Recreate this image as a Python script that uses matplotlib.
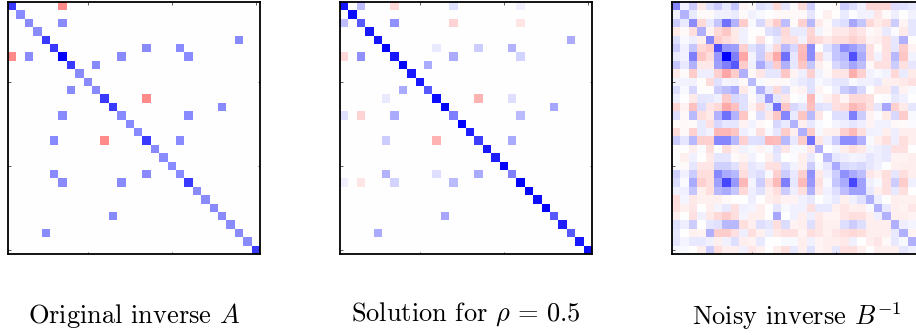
import numpy as np
import matplotlib
matplotlib.use("Agg")
import matplotlib.pyplot as plt

plt.rcParams['mathtext.fontset'] = 'cm'
plt.rcParams['font.family'] = ['cmr10', 'DejaVu Serif']

# diagonal of the original inverse
a_diag = [.77, .46, .46, .46, .77, .77, 1, .77, .46, .46, .46, .77, .77, .46, .46,
          .46, .77, .46, .46, .46, .46, .77, .46, .46, .46, .46, .46, .46, .46, .77]
# off diagonal entries, upper triangle (row, col)
a_rows = [0, 2, 4, 5, 5, 6, 6, 7, 11, 12, 13, 16]
a_cols = [6, 6, 27, 16, 20, 13, 21, 10, 16, 25, 21, 20]
a_vals = [-.46, .46, .46, .46, .46, .46, .46, .46, -.46, .46, .46, .46]

# solution for rho = 0.5
s_diag = [.92, .95, .65, .9, .92, 1, .9, 1, .9, .9, .65, .95, 1, .5, 1,
          .88, .75, .9, .88, 1, .5, 1, .97, .95, 1, .65, .88, .65, .9, .95]
s_rows = [0, 0, 0, 0, 2, 2, 2, 4, 5, 5, 5, 6, 6, 7, 11, 11, 12, 13, 16]
s_cols = [2, 6, 13, 21, 6, 13, 21, 27, 11, 16, 20, 13, 21, 10, 16, 20, 25, 21, 20]
s_vals = [.25, -.15, .12, .06, .43, -.17, -.1, .33, .08, .2, .3, .33, .17, .33,
          -.3, .13, .35, .27, .33]

# noisy inverse in percent, col 29 falls off the picture
noisy = [
    [47, 5, 20, -8, 12, 20, 8, 22, -5, -2, 12, 8, -15, 10, -2, -14, 18, 0, 0, -2, 20, 13, 6, -16, -16, -16, 13, 12, 9],
    [5, 30, 8, -2, -2, 6, 6, 8, -2, 5, 3, 0, -3, -3, -3, -3, 10, 0, -6, -1, 8, 1, 5, 5, -10, -2, 7, 0, 5],
    [20, 8, 45, -15, 8, 22, 55, 30, -20, 3, 15, -9, -20, 25, -2, -18, 28, -8, -2, 10, 13, 35, 22, -15, -8, -12, 20, -5, 10],
    [-8, -2, -13, 31, -5, -15, -22, -8, 6, -1, -1, 12, 15, -15, 8, 8, -16, 4, -3, -9, -9, -14, -10, -3, -5, 8, 2, -8, 10],
    [13, 3, 7, -6, 47, -20, -14, -9, 6, -1, -12, -1, 9, -13, -12, 5, -18, -14, -9, -14, -14, -18, -14, -5, -7, -12, 10, 31, -1],
    [20, 6, 22, -15, -20, 70, 40, 38, -18, 12, 18, 6, -15, 28, 15, -26, 45, 0, 12, 22, 45, 38, 28, -12, -2, -12, 10, -20, -5],
    [8, 5, 50, -22, -14, 40, 100, 50, -35, 4, 20, -15, -33, 56, 10, -28, 45, -15, 6, 22, 28, 68, 33, -12, 5, -12, 28, -22, 5],
    [22, 9, 30, -9, -9, 38, 50, 65, -20, 6, 33, 15, -20, 31, 10, -22, 22, -7, -2, 15, 22, 35, 25, -3, -12, -12, 20, -12, 10],
    [-8, -2, -20, 7, 7, -18, -35, -20, 31, -3, -10, 10, 10, -22, -5, 7, -18, 5, -3, -10, -10, -32, -18, 5, 3, 5, -15, 8, -8],
    [4, 5, 5, -1, -14, 12, 4, 6, -3, 27, 3, -3, -3, -3, 5, 9, 12, 3, 6, 10, 10, 3, 6, 6, 9, -6, -7, -9, -12],
    [13, 3, 15, -1, -1, 20, 25, 33, -9, 3, 30, 9, -15, 14, -3, -5, 12, -4, 0, 7, 20, 27, 15, 0, -8, -8, 13, -5, 3],
    [6, 0, -8, 10, 9, 6, -20, 15, 12, -2, 9, 40, 10, -10, 0, 3, -28, 3, -6, -12, -4, -15, -15, -13, 0, 2, 9, 6, 0],
    [-16, -5, -25, 14, -10, -15, -33, -25, 12, -5, -15, 8, 56, -22, 15, 10, -25, 12, 10, -12, -15, -28, -22, -12, 10, 35, -18, -8, 10],
    [13, -3, 27, -13, -8, 30, 56, 30, -22, -1, 13, -9, -22, 47, 8, -22, 27, -10, 0, 13, 13, 50, 20, -5, 2, -8, 15, -20, 3],
    [-2, -3, -2, 8, -12, 15, 10, 10, -5, 5, -3, 0, 15, 8, 30, -6, 9, 3, 0, 4, 7, 10, 7, -5, 5, 5, -3, -2, 2],
    [-14, -3, -18, 8, 5, -28, -28, -22, 7, 3, -12, 3, 10, -20, -7, 31, -20, 3, -6, -7, -18, -27, -13, 6, 5, -7, 7, -7, -7],
    [20, 10, 28, -18, -18, 47, 47, 28, -18, 12, 13, -28, -26, 28, 9, -20, 56, -10, 7, 20, 44, 44, 31, 3, -7, -13, 7, -13, -7],
    [0, 0, -7, 2, -13, 0, -13, -5, 5, 3, -5, 3, 12, -10, 3, 3, -9, 31, 0, 4, -7, -13, -9, 4, 7, 9, -12, -12, 0],
    [0, -6, 6, 0, -8, 10, 10, -2, -5, 5, 0, -6, 10, 0, 2, -7, 9, 0, 28, 10, 7, 4, 6, 10, 7, 9, -5, -5, -7],
    [2, -2, 10, -10, -10, 18, 18, 12, -10, 10, 7, -12, -12, 13, 5, -7, 20, 3, 10, 33, 15, 13, 15, 10, 6, 0, -6, -7, -7],
    [18, 6, 20, -13, -13, 47, 33, 28, -13, 10, 13, 3, -18, 20, 9, -18, 43, -9, 7, 20, 43, 33, 25, -10, -6, -13, 10, -13, -7],
    [14, 2, 33, -18, -13, 37, 72, 40, -28, 4, 20, -12, -27, 50, 10, -27, 40, -12, 3, 22, 33, 72, 37, 6, 3, -12, 20, -20, 6],
    [6, 6, 22, -6, -13, 28, 33, 22, -15, 7, 12, -7, -13, 20, 7, -13, 31, -9, 6, 13, 25, 37, 37, 9, -6, -12, 9, -13, 0],
    [-13, 4, -9, -6, -6, -6, -3, 0, 0, 7, 0, -7, -9, -5, -5, 6, 9, 0, 4, 9, -6, 6, 12, 31, 7, 0, -7, -6, -6],
    [-12, -6, -10, 0, -7, 4, 9, -12, 6, 4, -7, 0, 10, 3, 6, 6, -13, 9, 9, -6, -10, -6, -7, 3, 31, 9, -7, -5, -10],
    [-6, 0, -12, 6, -9, -15, -20, -13, 4, -7, -7, 0, 35, 0, 6, -7, 7, -9, -4, -4, -10, -13, -12, -7, 7, 31, -7, -7, -5],
    [12, 7, 20, 0, 10, 12, 28, 28, -13, -7, 13, 10, -13, 14, -5, -7, 13, -10, -6, -6, 13, 20, 13, -7, -7, -7, 31, 7, 4],
    [9, 0, -6, -4, 31, -20, -20, -12, 7, -13, -6, 7, -9, -12, -12, -4, -13, -10, -6, -10, -13, -15, -13, -7, -7, -7, 9, 31, -4],
    [10, 4, 9, 9, 6, -7, 6, 13, -7, -5, 9, 0, 0, 3, 3, -7, 6, -4, -7, -7, -9, 6, 0, -7, -10, -3, 9, 3, 31],
    [3, 3, 0, -7, 20, -13, -7, -7, 6, -10, -6, 0, -7, -13, 9, -7, 12, -4, -7, 10, -12, -13, -7, 0, -7, -7, -7, 10, 6],
]

titles = [r"Original inverse $A$", r"Solution for $\rho\,=\,0.5$", r"Noisy inverse $B^{-1}$"]


def build(diag, rows, cols, vals):
    m = np.diag(np.array(diag, dtype=float))
    for r, c, v in zip(rows, cols, vals):
        m[r, c] = v
        m[c, r] = v
    return m


A = build(a_diag, a_rows, a_cols, a_vals)
S = build(s_diag, s_rows, s_cols, s_vals)
B = np.array(noisy) / 100.0

W, H = 916, 335
fig = plt.figure(figsize=(W / 100, H / 100), dpi=100)

lefts = [8, 340, 672]
title_x = [28, 351, 692]
title_y = [323, 321, 325]

for i, m in enumerate([A, S, B]):
    ax = fig.add_axes([lefts[i] / W, 1 - 254 / H, 252 / W, 252 / H])
    n = m.shape[1]
    ax.imshow(m, cmap='bwr_r', vmin=-1, vmax=1, interpolation='nearest', aspect='auto',
              extent=(-0.5, n - 0.5, 29.5, -0.5))
    ax.set_xlim(-0.5, 29.5)
    ax.set_ylim(29.5, -0.5)
    ax.set_xticks([9, 19, 29])
    ax.set_yticks([9, 19, 29])
    ax.set_xticklabels([])
    ax.set_yticklabels([])
    ax.tick_params(direction='in', top=True, right=True, length=1.8, width=0.6, color='#444444')
    for sp in ax.spines.values():
        sp.set_linewidth(1.3)
    fig.text(title_x[i] / W, 1 - title_y[i] / H, titles[i], fontsize=19, ha='left', va='baseline')

fig.savefig('out.png', dpi=100)
